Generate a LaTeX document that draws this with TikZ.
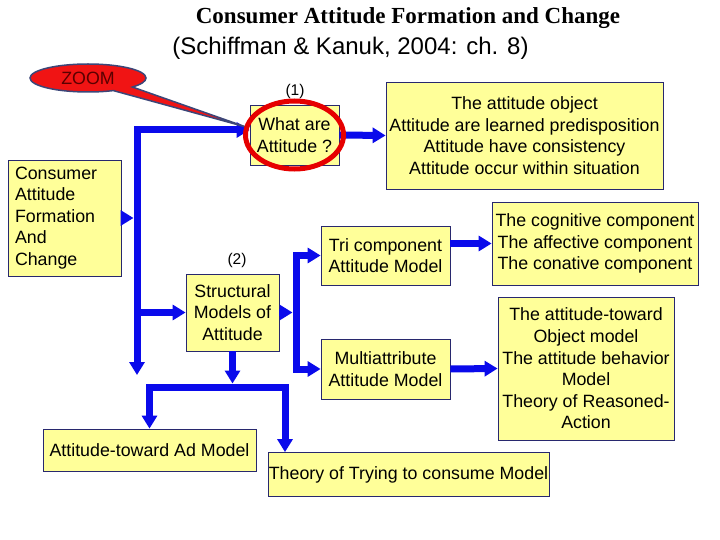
\documentclass[tikz,border=0pt]{standalone}
\usepackage{fontspec}
\setmainfont{Liberation Sans}
\newfontfamily\titlefont{Liberation Serif}
\usetikzlibrary{arrows.meta}
\usetikzlibrary{shapes.callouts}

\definecolor{boxfill}{RGB}{255,255,153}
\definecolor{boxline}{RGB}{40,40,110}
\definecolor{flowblue}{RGB}{10,10,235}
\definecolor{ringred}{RGB}{230,0,0}
\definecolor{zoomred}{RGB}{240,20,20}
\definecolor{zoomline}{RGB}{60,70,120}
\definecolor{zoomtext}{RGB}{90,0,0}

\begin{document}
\begin{tikzpicture}[x=1pt, y=-1pt,
  box/.style={draw=boxline, fill=boxfill, line width=0.8pt, inner sep=0pt, align=center, font=\fontsize{17.8}{21.6}\selectfont},
  bus/.style={draw=flowblue, line width=7pt},
  flow/.style={bus, -{Triangle[length=13pt,width=15pt]}},
  flows/.style={bus, {Triangle[length=13pt,width=15pt]}-{Triangle[length=13pt,width=15pt]}}]

\fill[white] (0,0) rectangle (720,540);
\useasboundingbox (0,0) rectangle (720,540);

\node[font=\titlefont\bfseries\fontsize{23}{26}\selectfont] (title) at (408,18) {Consumer Attitude Formation and Change};
\node[font=\fontsize{24}{28}\selectfont] (source) at (350.5,48) {(Schiffman \& Kanuk, 2004: ch. 8)};

\node[box, align=left, text width=99pt, inner xsep=7pt, minimum height=116pt] (consumer) at (64.5,218) {Consumer\\Attitude\\Formation\\And\\Change};
\node[box, minimum width=89pt, minimum height=60pt] (what) at (294.5,135) {What are\\Attitude ?};
\node[box, minimum width=277pt, minimum height=107pt] (obj) at (524.5,135.5) {The attitude object\\Attitude are learned predisposition\\Attitude have consistency\\Attitude occur within situation};
\node[box, minimum width=93pt, minimum height=77pt] (struct) at (232.5,312.5) {Structural\\Models of\\Attitude};
\node[box, minimum width=129pt, minimum height=59pt] (tri) at (385.5,255.5) {Tri component\\Attitude Model};
\node[box, minimum width=129pt, minimum height=60pt] (multi) at (385.5,369) {Multiattribute\\Attitude Model};
\node[box, minimum width=206pt, minimum height=83pt] (cog) at (595,243.5) {The cognitive component\\The affective component\\The conative component};
\node[box, minimum width=176pt, minimum height=143pt] (model) at (586,368.5) {The attitude-toward\\Object model\\The attitude behavior\\Model\\Theory of Reasoned-\\Action};
\node[box, minimum width=213pt, minimum height=42pt] (ad) at (149.5,450) {Attitude-toward Ad Model};
\node[box, minimum width=281pt, minimum height=44pt] (try) at (408.5,474.5) {Theory of Trying to consume Model};

\node[font=\fontsize{15.5}{18}\selectfont] (numone) at (295,91) {(1)};
\node[font=\fontsize{15.5}{18}\selectfont] (numtwo) at (237,260) {(2)};

\coordinate (spinetop) at (137,130);
\coordinate (spinebot) at (137,375);
\coordinate (rspine) at (296,312.5);
\coordinate (busR) at (285,387);
\coordinate (zoomtip) at (246,127);

\draw[flows] (spinebot) -- (spinetop) -- (what.west |- spinetop);
\draw[flow, shorten >=3.5pt] (consumer.east) -- (consumer.east -| spinetop);
\draw[flow] (struct.west -| spinetop) -- (struct.west);
\draw[flow] (what.east) -- (obj.west);
\draw[flow, shorten >=3.5pt] (struct.south) -- (struct.south |- busR);
\draw[flows] (ad.north) -- (ad.north |- busR) -- (busR) -- (try.north -| busR);
\draw[flow, shorten >=3.5pt] (struct.east) -- (struct.east -| rspine);
\draw[flows] (tri.west) -- (tri.west -| rspine) -- (multi.west -| rspine) -- (multi.west);
\draw[flow] (cog.west -| tri.east) -- (cog.west);
\draw[flow] (multi.east) -- (model.west);

\node[ellipse callout, draw=zoomline, fill=zoomred, line width=1.5pt, minimum width=116pt, minimum height=28pt, inner sep=0pt,
  callout absolute pointer={(zoomtip)}, callout pointer arc=24, text=zoomtext, font=\fontsize{17.8}{21.6}\selectfont] (zoom) at (88,78) {ZOOM};
\draw[ringred, line width=5pt] (what.center) ellipse [x radius=49, y radius=34];

\end{tikzpicture}
\end{document}
